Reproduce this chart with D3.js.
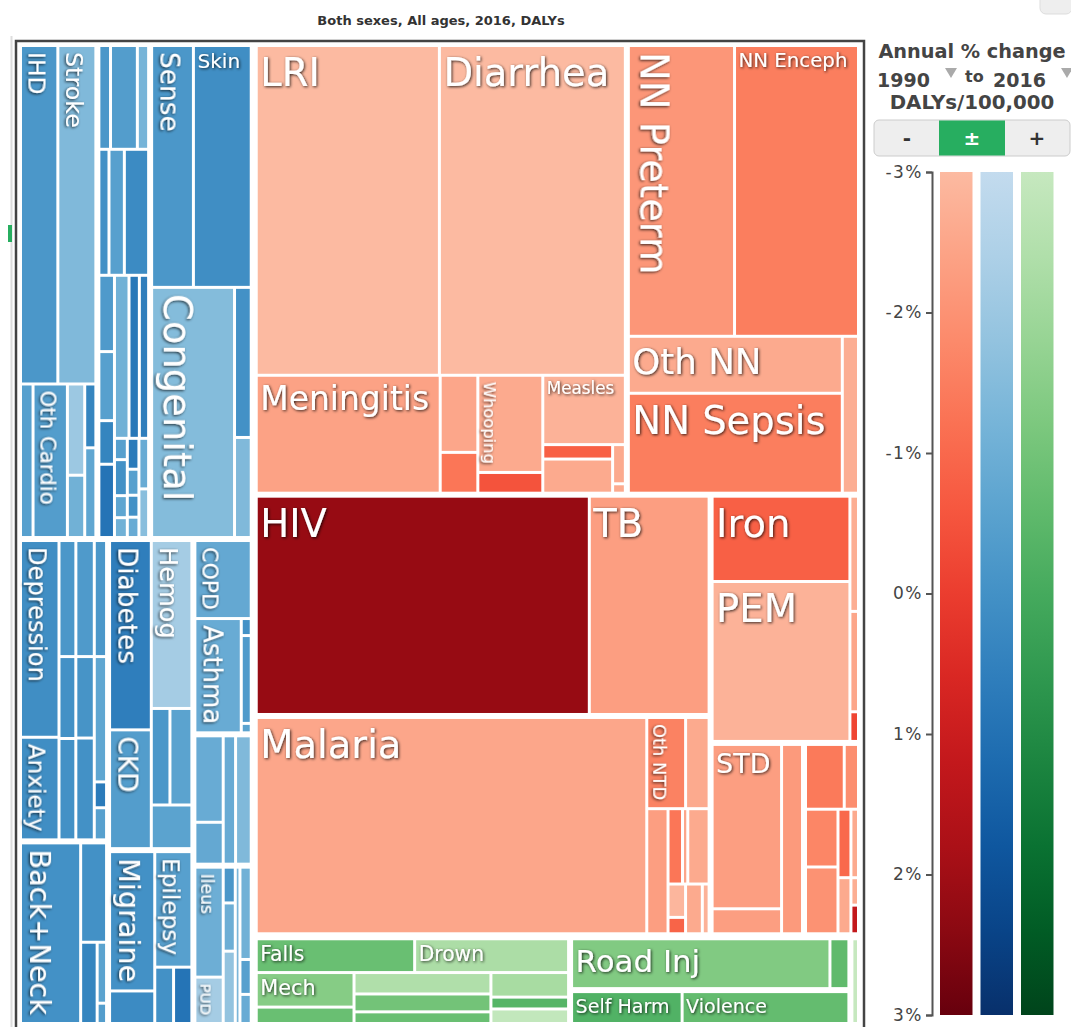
<!DOCTYPE html>
<html>
<head>
<meta charset="utf-8">
<script src="https://cdn.jsdelivr.net/npm/d3@7"></script>
<style>
  body { margin: 0; background: #fff; }
  svg { font-family: "DejaVu Sans", Verdana, sans-serif; }
</style>
</head>
<body>
<svg id="chart" width="1071" height="1027"></svg>
<script>
// leaf: [label, DALYs (x100), annual % change]; group: ["h" | "v", ...children]
const cardio = ["v",
  ["h", ["IHD", 1313, -0.2], ["Stroke", 1337, -1.4]],
  ["h", ["", 200, -0.5], ["Oth Cardio", 548, -0.4], ["v", ["", 164, -2.0], ["", 112, -1.1]], ["v", ["", 74, 0.4], ["", 104, -0.7]]]
];
const neoplasms = ["v",
  ["h", ["", 128, -0.2], ["", 295, -0.4], ["", 124, -1.2]],
  ["h", ["", 135, 0.0], ["", 205, -0.5], ["", 324, 0.2]],
  ["h",
    ["v", ["", 126, -0.3], ["", 114, -0.5], ["", 72, 0.4], ["", 121, 0.9]],
    ["v",
      ["h", ["", 251, -1.1], ["", 179, 0.8], ["", 160, 0.6]],
      ["h",
        ["v", ["", 29, -0.5], ["", 49, 0.0], ["", 30, -0.7], ["", 27, -1.1]],
        ["v", ["", 38, 0.7], ["", 32, -0.5], ["", 27, 0.0], ["", 25, -0.9]],
        ["v", ["", 52, -0.9], ["", 50, -1.6]]]]]
];
const otherNcd = ["v",
  ["h", ["Sense", 1040, -0.2], ["Skin", 1439, 0.1]],
  ["h", ["Congenital", 2134, -1.5], ["v", ["", 258, 0.0], ["", 172, -1.4]]]
];
const mental = ["h",
  ["v", ["Depression", 786, 0.1], ["Anxiety", 410, 0.1]],
  ["v",
    ["h", ["", 203, -0.2], ["", 222, -0.3], ["", 148, -0.2]],
    ["h", ["v", ["", 143, 0.0], ["", 177, 0.0]], ["v", ["", 156, -0.1], ["", 195, 0.0]], ["v", ["", 160, -0.7], ["", 33, 0.7], ["", 41, -0.5]]]]
];
const musculo = ["h", ["Back+Neck", 1135, 0.0], ["v", ["", 269, 0.0], ["h", ["", 140, 0.4], ["v", ["", 60, -0.6], ["", 20, -0.4]]]]];
const diabetes = ["h",
  ["v", ["Diabetes", 821, 0.6], ["CKD", 515, -0.4]],
  ["v", ["Hemog", 708, -2.2], ["h", ["", 187, -0.2], ["", 220, -0.6]], ["", 184, -0.6]]
];
const neuro = ["h",
  ["v", ["Migraine", 659, 0.0], ["", 154, 0.2]],
  ["v", ["Epilepsy", 449, -0.5], ["h", ["", 111, 0.0], ["", 108, 0.9]]]
];
const respiratory = ["v", ["COPD", 467, -0.8], ["h", ["Asthma", 563, -0.9], ["v", ["", 18, 0.0], ["", 93, -0.3], ["", 10, -0.6]]]];
const cirrhosis = ["h", ["v", ["", 262, -0.9], ["", 127, -0.8]], ["", 170, -0.9], ["", 215, -1.4]];
const digestive = ["h",
  ["v", ["Ileus", 332, -1.0], ["PUD", 140, -2.2]],
  ["v", ["", 46, -0.2], ["", 62, -1.0], ["", 93, -1.8]],
  ["", 78, -1.3],
  ["v", ["", 111, -1.1], ["", 42, -0.5], ["", 35, -0.9]]
];

const diarLri = ["v",
  ["h", ["LRI", 6056, -3.0], ["Diarrhea", 6148, -3.0]],
  ["h", ["Meningitis", 2175, -2.4], ["v", ["", 291, -2.5], ["", 154, -1.3]], ["v", ["Whooping", 633, -2.6], ["", 135, -0.5]],
    ["v", ["Measles", 574, -2.8], ["h", ["v", ["", 101, -0.8], ["", 239, -2.6]], ["v", ["", 50, -2.6], ["", 12, -2.6]]]]]
];
const neonatal = ["v",
  ["h", ["NN Preterm", 3111, -2.1], ["NN Enceph", 3632, -1.5]],
  ["h", ["v", ["Oth NN", 1228, -2.6], ["NN Sepsis", 2154, -1.5]], ["", 256, -2.7]]
];
const hivTb = ["h", ["HIV", 7330, 2.2], ["TB", 2636, -2.3]];
const ntd = ["h", ["Malaria", 8517, -2.5],
  ["v",
    ["h", ["Oth NTD", 357, -1.6], ["", 216, -2.6]],
    ["h", ["", 268, -2.3],
      ["v", ["h", ["", 110, -1.3], ["", 40, -2.5], ["", 162, -2.6]],
            ["h", ["v", ["", 59, -2.9], ["", 29, -0.9]], ["", 84, -2.6], ["", 34, -2.8]]]]]
];
const nutrition = ["h", ["v", ["Iron", 1200, -0.8], ["PEM", 2249, -2.8]], ["v", ["", 101, -2.7], ["", 88, -2.5], ["", 26, -0.2]]];
const otherInf = ["h", ["v", ["STD", 1184, -2.3], ["", 180, -2.3]], ["", 411, -2.2]];
const maternal = ["v",
  ["h", ["", 266, -1.4], ["", 98, -1.9]],
  ["h", ["v", ["", 199, -1.7], ["", 230, -2.0]], ["v", ["", 94, -1.0], ["", 77, -2.6]], ["v", ["", 55, -2.6], ["", 22, -2.7], ["", 23, 1.2]]]
];

const unintentional = ["v",
  ["h", ["Falls", 564, -0.8], ["Drown", 548, -2.3]],
  ["h", ["v", ["Mech", 356, -1.4], ["", 169, -0.8]], ["v", ["", 309, -2.4], ["", 258, -1.0], ["", 168, -0.8]], ["v", ["", 201, -2.2], ["", 97, -0.4], ["", 119, -2.9]]]
];
const transport = ["h", ["Road Inj", 1391, -1.3], ["", 102, -0.6]];
const selfHarmViolence = ["h", ["Self Harm", 393, -0.3], ["Violence", 593, -0.7]];
const war = ["v", ["", 85, -3.0]];

// how the cause groups sit inside each top-level group
const ncdLayout = ["v", ["h", "cardio", "neoplasms", "otherNcd"],
  ["h", ["v", "mental", "musculo"], ["v", "diabetes", "neuro"], ["v", "respiratory", "cirrhosis", "digestive"]]];
const commLayout = ["v", ["h", "diarLri", "neonatal"],
  ["h", ["v", "hivTb", "ntd"], ["v", "nutrition", ["h", "otherInf", "maternal"]]]];
const injLayout = ["h", "unintentional", ["v", "transport", "selfHarmViolence"], "war"];

const legendTicks = [-3, -2, -1, 0, 1, 2, 3];

const groups = {cardio, neoplasms, otherNcd, mental, musculo, diabetes, neuro, respiratory, cirrhosis, digestive,
  diarLri, neonatal, hivTb, ntd, nutrition, otherInf, maternal, unintentional, transport, selfHarmViolence, war};

function build(spec, tier, family) {
  if (typeof spec === "string") return build(groups[spec], 2, family);
  if (spec[0] === "h" || spec[0] === "v")
    return {dir: spec[0], tier: tier, children: spec.slice(1).map(s => build(s, tier, family))};
  return {name: spec[0], value: spec[1], change: spec[2], family: family};
}

const tree = {dir: "h", tier: 0, children: [
  build(ncdLayout, 1, "ncd"),
  {dir: "v", tier: 0, children: [build(commLayout, 1, "comm"), build(injLayout, 1, "inj")]}
]};

const pad = [8, 6, 3];
const treemap = d3.treemap()
  .size([835, 975])
  .paddingInner(n => pad[n.data.tier])
  .tile((node, x0, y0, x1, y1) => (node.data.dir === "h" ? d3.treemapDice : d3.treemapSlice)(node, x0, y0, x1, y1));

const root = treemap(d3.hierarchy(tree).sum(d => d.value || 0));

const interp = {ncd: d3.interpolateBlues, comm: d3.interpolateReds, inj: d3.interpolateGreens};
const tScale = d3.scaleLinear().domain([-3, 3]).range([0.25, 1]).clamp(true);
const colour = d => interp[d.family](tScale(d.change));

const svg = d3.select("#chart");
const defs = svg.append("defs");
const f = defs.append("filter").attr("id", "shadow")
  .attr("x", "-20%").attr("y", "-20%").attr("width", "140%").attr("height", "140%");
f.append("feDropShadow").attr("dx", 1).attr("dy", 1).attr("stdDeviation", 1.7)
  .attr("flood-color", "#000").attr("flood-opacity", 0.8);

// page bits
svg.append("line").attr("x1", 11.5).attr("x2", 11.5).attr("y1", 36).attr("y2", 1027)
  .attr("stroke", "#ddd").attr("stroke-width", 2);
svg.append("rect").attr("x", 8).attr("y", 225).attr("width", 4).attr("height", 17).attr("fill", "#27ae60");
svg.append("rect").attr("x", 1040).attr("y", -12).attr("width", 32).attr("height", 26).attr("rx", 6)
  .attr("fill", "#eee").attr("stroke", "#ddd");

svg.append("text").attr("x", 441).attr("y", 25).attr("text-anchor", "middle")
  .attr("font-size", 13).attr("font-weight", "bold").attr("fill", "#333")
  .text("Both sexes, All ages, 2016, DALYs");

svg.append("rect").attr("x", 16).attr("y", 41).attr("width", 848).attr("height", 1000)
  .attr("fill", "none").attr("stroke", "#444").attr("stroke-width", 2.5);

const g = svg.append("g").attr("transform", "translate(22,47)");

g.selectAll("rect.cell")
  .data(root.leaves())
  .join("rect")
  .attr("class", "cell")
  .attr("x", d => d.x0)
  .attr("y", d => d.y0)
  .attr("width", d => d.x1 - d.x0)
  .attr("height", d => d.y1 - d.y0)
  .attr("fill", d => colour(d.data));

// labels: sized to fit, turned on their side when flat text would be too small
const probe = svg.append("text").attr("font-size", 100);
const labelled = root.leaves().filter(d => d.data.name);
labelled.forEach(d => {
  probe.text(d.data.name);
  const em = probe.node().getComputedTextLength() / 100;
  const w = d.x1 - d.x0, h = d.y1 - d.y0;
  const fh = Math.min(38.5, (w - 12) / em, 0.66 * h);
  const fr = Math.min(38.5, (h - 12) / em, 0.68 * w);
  d.rotated = fh < 16;
  d.fs = d.rotated ? fr : fh;
});
probe.remove();

g.selectAll("text.lbl")
  .data(labelled)
  .join("text")
  .attr("class", "lbl")
  .attr("fill", "#fff")
  .attr("filter", "url(#shadow)")
  .attr("font-size", d => d.fs)
  .attr("transform", d => d.rotated
    ? `translate(${d.x0 + 0.28 * d.fs},${d.y0 + 5}) rotate(90)`
    : `translate(${d.x0 + 2.5},${d.y0 + 1.02 * d.fs})`)
  .text(d => d.data.name);

// legend
const lg = svg.append("g").attr("fill", "#444").attr("font-weight", "bold");
lg.append("text").attr("x", 972).attr("y", 58).attr("text-anchor", "middle").attr("font-size", 19.3).text("Annual % change");
lg.append("text").attr("x", 877).attr("y", 87).attr("font-size", 19).text("1990");
lg.append("text").attr("x", 965).attr("y", 82).attr("font-size", 16).text("to");
lg.append("text").attr("x", 993).attr("y", 87).attr("font-size", 19).text("2016");
lg.append("text").attr("x", 972).attr("y", 109).attr("text-anchor", "middle").attr("font-size", 19.8).text("DALYs/100,000");
[951, 1067].forEach(x => lg.append("path")
  .attr("d", `M${x - 6},68 L${x + 6},68 L${x},78 Z`).attr("fill", "#aaa"));

const btn = svg.append("g");
btn.append("rect").attr("x", 874).attr("y", 120).attr("width", 196).attr("height", 36).attr("rx", 5)
  .attr("fill", "#eee").attr("stroke", "#ccc");
btn.append("rect").attr("x", 939).attr("y", 120.5).attr("width", 66).attr("height", 35).attr("fill", "#27ae60");
[["-", 907, "#333"], ["±", 972, "#fff"], ["+", 1037, "#333"]].forEach(([t, x, c]) =>
  btn.append("text").attr("x", x).attr("y", 145).attr("text-anchor", "middle")
    .attr("font-size", 20).attr("font-weight", "bold").attr("fill", c).text(t));

const yLeg = d3.scaleLinear().domain([-3, 3]).range([172, 1015]);
const fams = ["comm", "ncd", "inj"];
fams.forEach((fam, i) => {
  const grad = defs.append("linearGradient").attr("id", "grad-" + fam)
    .attr("x1", 0).attr("x2", 0).attr("y1", 0).attr("y2", 1);
  d3.range(0, 1.0001, 0.1).forEach(s => grad.append("stop")
    .attr("offset", s).attr("stop-color", interp[fam](0.25 + 0.75 * s)));
  svg.append("rect").attr("x", 940 + i * 40.5).attr("y", yLeg(-3)).attr("width", 32.5)
    .attr("height", yLeg(3) - yLeg(-3)).attr("fill", `url(#grad-${fam})`);
});

const axis = svg.append("g").attr("transform", "translate(932,0)")
  .call(d3.axisLeft(yLeg).tickValues(legendTicks).tickFormat(d => d + "%").tickSize(6).tickPadding(3));
axis.select(".domain").attr("stroke", "#555").attr("stroke-width", 2);
axis.selectAll(".tick line").attr("stroke", "#555").attr("stroke-width", 2);
axis.selectAll(".tick text").attr("fill", "#444").attr("font-size", 17)
  .attr("font-family", "DejaVu Sans, sans-serif").attr("letter-spacing", 1.5);
</script>
</body>
</html>
